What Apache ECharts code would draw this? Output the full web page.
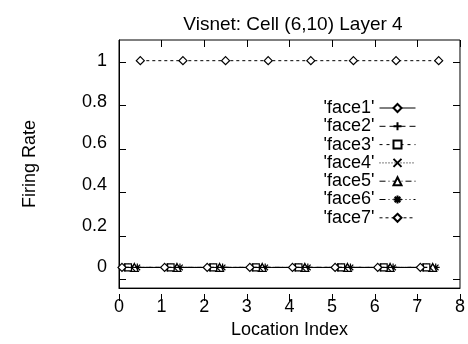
<!DOCTYPE html>
<html>
<head>
<meta charset="utf-8">
<script src="https://cdn.jsdelivr.net/npm/echarts@6/dist/echarts.min.js"></script>
<style>
  html, body { margin: 0; padding: 0; background: #fff; }
  #chart { width: 468px; height: 344px; }
</style>
</head>
<body>
<div id="chart"></div>
<script>
// Location indices and the small x shift that separates each face's points
const locations = [0, 1, 2, 3, 4, 5, 6, 7];
const faceNames = ["'face1'", "'face2'", "'face3'", "'face4'", "'face5'", "'face6'", "'face7'"];
const faceOffsets = [0.07, 0.14, 0.21, 0.29, 0.36, 0.43, 0.5];

// Firing rate of the cell for each face at each location
const face1 = [0, 0, 0, 0, 0, 0, 0, 0];
const face2 = [0, 0, 0, 0, 0, 0, 0, 0];
const face3 = [0, 0, 0, 0, 0, 0, 0, 0];
const face4 = [0, 0, 0, 0, 0, 0, 0, 0];
const face5 = [0, 0, 0, 0, 0, 0, 0, 0];
const face6 = [0, 0, 0, 0, 0, 0, 0, 0];
const face7 = [1, 1, 1, 1, 1, 1, 1, 1];
const faceValues = [face1, face2, face3, face4, face5, face6, face7];

const xTicks = [0, 1, 2, 3, 4, 5, 6, 7, 8];
const yTicks = [0, 0.2, 0.4, 0.6, 0.8, 1];
const X_MIN = 0, X_MAX = 8, Y_MIN = -0.1, Y_MAX = 1.1;

const FONT = 'Liberation Sans';
const TICK_LEN = 7;

// Plot box margins
const BOX = { left: 119, right: 8, top: 40, bottom: 43 };

// Point markers and dash patterns per face
const styles = [
  { symbol: 'diamond', size: 8, hollow: true, dash: 'solid' },
  { symbol: 'path://M0,5L10,5M5,0L5,10', size: 8, hollow: false, dash: [6, 4] },
  { symbol: 'rect', size: 7, hollow: true, dash: [3, 4] },
  { symbol: 'path://M0,0L10,10M10,0L0,10', size: 7, hollow: false, dash: [1, 2] },
  { symbol: 'triangle', size: 8, hollow: true, dash: [6, 3, 1, 3] },
  { symbol: 'path://M0,5L10,5M5,0L5,10M1.5,1.5L8.5,8.5M8.5,1.5L1.5,8.5', size: 8, hollow: false, dash: [6, 3, 1, 3, 1, 3] },
  { symbol: 'diamond', size: 8, hollow: true, dash: [3, 3] }
];

const series = faceNames.map((name, i) => ({
  name: name,
  type: 'line',
  xAxisIndex: 0,
  yAxisIndex: 0,
  symbol: styles[i].symbol,
  symbolSize: styles[i].size,
  showAllSymbol: true,
  animation: false,
  z: 10 - i,
  data: locations.map((loc, k) => [loc + faceOffsets[i], faceValues[i][k]]),
  lineStyle: { color: '#000', width: 1, type: styles[i].dash },
  itemStyle: {
    color: styles[i].hollow ? '#fff' : 'none',
    borderColor: '#000',
    borderWidth: 1.2
  }
}));

const chart = echarts.init(document.getElementById('chart'), null, { renderer: 'canvas' });

const labelStyle = { color: '#000', fontFamily: FONT, fontSize: 18 };

// Tick strips: each is a grid inset by the tick length, whose outward ticks land inside the plot box
const grids = [
  Object.assign({ show: true, borderColor: '#000', borderWidth: 1, backgroundColor: 'transparent' }, BOX),
  Object.assign({}, BOX, { left: BOX.left + TICK_LEN }),     // left ticks
  Object.assign({}, BOX, { right: BOX.right + TICK_LEN }),   // right ticks
  Object.assign({}, BOX, { bottom: BOX.bottom + TICK_LEN }), // bottom ticks
  Object.assign({}, BOX, { top: BOX.top + TICK_LEN })        // top ticks
];

const hiddenLine = { show: true, onZero: false, lineStyle: { color: 'rgba(0,0,0,0)', width: 1 } };
const tickLook = { show: true, inside: false, length: TICK_LEN, lineStyle: { color: '#000', width: 1 } };

function tickX(gridIndex, position) {
  return {
    gridIndex: gridIndex, type: 'value', min: X_MIN, max: X_MAX, interval: 1, position: position,
    axisLine: hiddenLine,
    axisTick: Object.assign({ customValues: xTicks }, tickLook),
    axisLabel: { show: false },
    splitLine: { show: false }
  };
}
function tickY(gridIndex, position) {
  return {
    gridIndex: gridIndex, type: 'value', min: Y_MIN, max: Y_MAX, position: position,
    axisLine: hiddenLine,
    axisTick: Object.assign({ customValues: yTicks }, tickLook),
    axisLabel: { show: false },
    splitLine: { show: false }
  };
}
function blankX(gridIndex) {
  return { gridIndex: gridIndex, type: 'value', min: X_MIN, max: X_MAX, show: false };
}
function blankY(gridIndex) {
  return { gridIndex: gridIndex, type: 'value', min: Y_MIN, max: Y_MAX, show: false };
}

chart.setOption({
  animation: false,
  backgroundColor: '#fff',
  title: {
    text: 'Visnet: Cell (6,10) Layer 4',
    left: 288,
    top: 10,
    textAlign: 'center',
    textStyle: { color: '#000', fontFamily: FONT, fontSize: 19, fontWeight: 'normal' }
  },
  legend: {
    orient: 'vertical',
    right: 47,
    top: 94,
    align: 'right',
    itemWidth: 36,
    itemHeight: 10,
    itemGap: 0.3,
    lineStyle: { width: 1 },
    textStyle: { color: '#000', fontFamily: FONT, fontSize: 18, lineHeight: 18 },
    data: faceNames
  },
  grid: grids,
  xAxis: [
    {
      gridIndex: 0, type: 'value', min: X_MIN, max: X_MAX, interval: 1,
      name: 'Location Index', nameLocation: 'middle', nameGap: 23,
      nameTextStyle: labelStyle,
      axisLine: { show: true, onZero: false, lineStyle: { color: '#000', width: 1 } },
      axisTick: { show: false },
      axisLabel: Object.assign({ margin: 10, formatter: v => xTicks.includes(v) ? String(v) : '' }, labelStyle),
      splitLine: { show: false }
    },
    blankX(1),
    blankX(2),
    tickX(3, 'bottom'),
    tickX(4, 'top')
  ],
  yAxis: [
    {
      gridIndex: 0, type: 'value', min: Y_MIN, max: Y_MAX,
      name: 'Firing Rate', nameLocation: 'middle', nameGap: 80, nameRotate: 90,
      nameTextStyle: labelStyle,
      axisLine: { show: true, onZero: false, lineStyle: { color: '#000', width: 1 } },
      axisTick: { show: false },
      axisLabel: Object.assign({ margin: 12, customValues: yTicks, formatter: v => String(+v.toFixed(1)) }, labelStyle),
      splitLine: { show: false }
    },
    tickY(1, 'left'),
    tickY(2, 'right'),
    blankY(3),
    blankY(4)
  ],
  series: series
});
</script>
</body>
</html>
